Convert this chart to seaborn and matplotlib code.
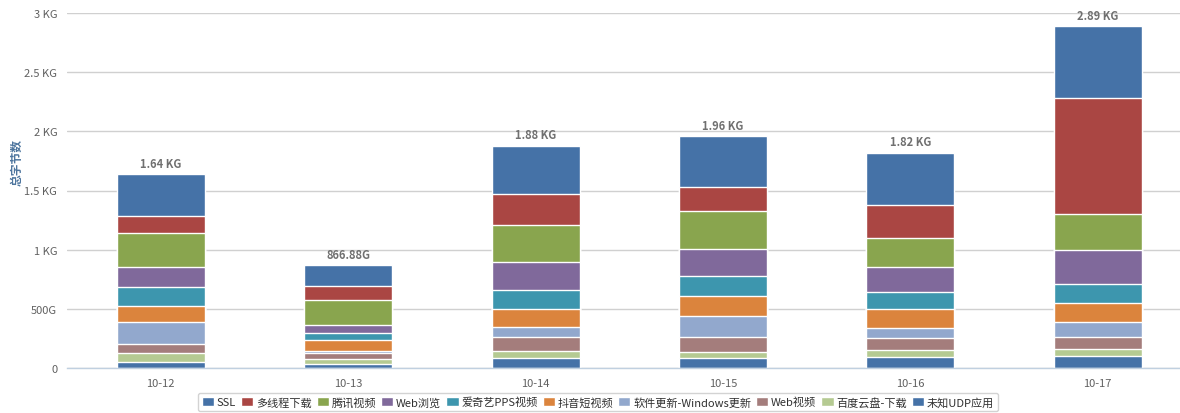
import matplotlib
matplotlib.use("Agg")
import matplotlib.pyplot as plt
import seaborn as sns
import pandas as pd
import numpy as np

# ---- data (values in G) ----
dates = ["10-12", "10-13", "10-14", "10-15", "10-16", "10-17"]
# legend order (top of stack first)
series = ["SSL", "多线程下载", "腾讯视频", "Web浏览", "爱奇艺PPS视频", "抖音短视频",
          "软件更新-Windows更新", "Web视频", "百度云盘-下载", "未知UDP应用"]
ssl        = [358, 171, 409, 433, 442, 610]
multi_dl   = [143, 121, 262, 197, 279, 981]
tencent    = [283, 209, 316, 324, 248, 299]
web_browse = [174, 73, 236, 228, 211, 287]
iqiyi      = [160, 56, 158, 169, 141, 166]
douyin     = [136, 91, 152, 172, 163, 161]
win_update = [181, 17, 87, 177, 82, 126]
web_video  = [78, 56, 119, 122, 102, 99]
baidu      = [79, 37, 59, 56, 56, 57]
udp        = [48, 36, 82, 82, 96, 104]
total_labels = ["1.64 KG", "866.88G", "1.88 KG", "1.96 KG", "1.82 KG", "2.89 KG"]
y_ticks = [0, 500, 1000, 1500, 2000, 2500, 3000]
y_tick_labels = ["0", "500G", "1 KG", "1.5 KG", "2 KG", "2.5 KG", "3 KG"]

values = [ssl, multi_dl, tencent, web_browse, iqiyi, douyin, win_update, web_video, baidu, udp]
colors = ["#4572A7", "#AA4643", "#89A54E", "#80699B", "#3D96AE", "#DB843D",
          "#92A8CD", "#A47D7C", "#B5CA92", "#4572A7"]

sns.set_theme(style="white")
plt.rcParams["font.family"] = ["Noto Sans CJK SC", "DejaVu Sans"]

W, H = 1180, 414
fig = plt.figure(figsize=(W / 100, H / 100), dpi=100)
ax_l, ax_r, ax_t, ax_b = 67, 1180, 14, 369
ax = fig.add_axes([ax_l / W, 1 - ax_b / H, (ax_r - ax_l) / W, (ax_b - ax_t) / H])

# long table; cumulative from bottom of the stack
rows = []
for s, v in zip(series, values):
    for d, val in zip(dates, v):
        rows.append({"date": d, "series": s, "value": val})
df = pd.DataFrame(rows)
order_bottom_up = series[::-1]
df["rank"] = df["series"].map({s: i for i, s in enumerate(order_bottom_up)})
df = df.sort_values(["date", "rank"])
df["cum"] = df.groupby("date")["value"].cumsum()

bar_w = 88 / 187.4
# draw tallest cumulative (top series) first, smaller ones over it
for s, c in zip(series, colors):
    sub = df[df["series"] == s]
    sns.barplot(data=sub, x="date", y="cum", order=dates, color=c, width=bar_w,
                edgecolor="white", linewidth=1.0, saturation=1, ax=ax, label=s,
                errorbar=None)

# totals labels
totals = df.groupby("date")["cum"].max().reindex(dates).values
for i, (t, lab) in enumerate(zip(totals, total_labels)):
    ax.text(i, t + 35, lab, ha="center", va="bottom", fontsize=8, fontweight="bold",
            color="#707070")

ax.set_ylim(0, 3000)
ax.set_xlim(-0.5, -0.5 + (ax_r - ax_l) / 187.4)
ax.set_yticks(y_ticks)
ax.set_yticklabels(y_tick_labels)
ax.yaxis.grid(True, color="#D0D0D0", linewidth=1)
ax.set_axisbelow(True)
for sp in ["top", "right", "left"]:
    ax.spines[sp].set_visible(False)
ax.spines["bottom"].set_color("#C0D0E0")
ax.spines["bottom"].set_linewidth(1)
ax.tick_params(axis="y", length=0, pad=7, labelsize=8, labelcolor="#606060")
ax.tick_params(axis="x", length=4, width=1, color="#C0D0E0", direction="out",
               pad=3, labelsize=8, labelcolor="#606060")
ax.set_xlabel("")
ax.set_ylabel("总字节数", fontsize=8.5, color="#4D759E", fontweight="bold")
ax.yaxis.set_label_coords(-0.039, 0.583)

handles, labels = ax.get_legend_handles_labels()
ax.legend(handles, labels, loc="center", bbox_to_anchor=(598 / W, 1 - 403 / H),
          bbox_transform=fig.transFigure, ncol=10, fontsize=8, frameon=True,
          handlelength=1.1, handleheight=0.9, handletextpad=0.25, columnspacing=0.45,
          borderpad=0.35, edgecolor="#C8C8C8", fancybox=True, labelcolor="#303030")

fig.savefig("out.png", dpi=100)
